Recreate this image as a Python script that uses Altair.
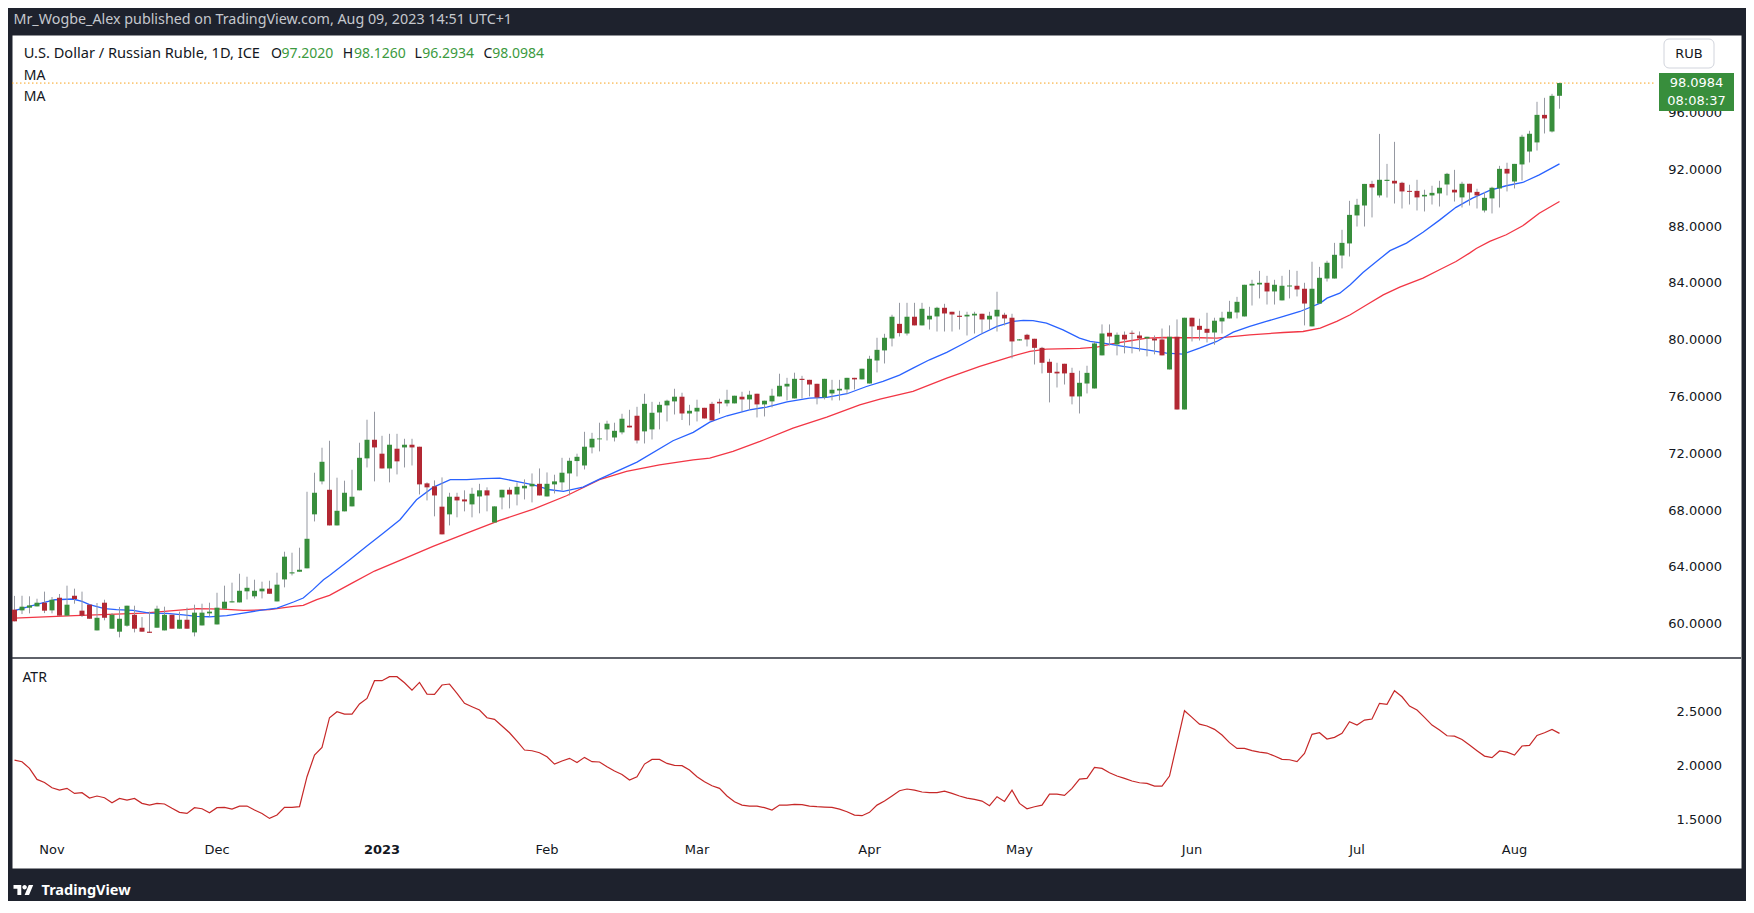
import altair as alt
import pandas as pd

# ---------------- data (USD/RUB daily, Oct 25 2022 - Aug 9 2023) -------------
opens = [
    61.03, 60.98, 61.17, 61.26, 61.52, 60.98, 61.87, 60.61, 62.01, 60.96,
    61.38, 59.57, 61.52, 59.69, 59.48, 59.90, 60.67, 59.76, 59.48, 59.76,
    59.57, 60.67, 59.69, 60.32, 59.43, 59.92, 60.77, 59.99, 61.10, 61.54,
    61.54, 62.32, 61.97, 62.32, 62.51, 61.61, 63.16, 63.58, 63.70, 63.94,
    67.74, 70.06, 69.47, 66.96, 67.95, 68.30, 69.43, 71.68, 72.99, 72.01,
    70.97, 72.36, 72.45, 72.64, 72.50, 69.92, 69.71, 68.28, 67.74, 68.98,
    68.79, 68.44, 69.00, 69.43, 67.17, 68.93, 69.47, 69.14, 69.57, 69.71,
    69.89, 69.00, 69.85, 69.99, 70.62, 71.49, 71.18, 72.45, 73.02, 73.72,
    73.15, 73.51, 73.98, 74.68, 73.58, 73.72, 74.91, 75.41, 75.69, 76.02,
    74.84, 74.98, 75.24, 75.52, 75.66, 75.55, 75.55, 76.02, 75.83, 76.23,
    75.48, 75.69, 76.04, 76.74, 75.90, 77.28, 77.21, 76.93, 75.97, 76.25,
    76.46, 76.53, 77.35, 77.24, 76.95, 78.57, 79.28, 80.12, 81.15, 80.47,
    81.65, 81.04, 81.46, 81.67, 82.28, 82.00, 81.72, 81.67, 81.74, 81.86,
    81.46, 81.67, 81.79, 81.58, 79.98, 80.38, 80.10, 79.46, 78.48, 77.78,
    78.34, 77.70, 76.04, 76.95, 76.60, 78.93, 80.52, 79.70, 80.38, 80.52,
    80.33, 80.12, 80.12, 80.05, 77.94, 80.24, 75.12, 81.58, 81.01, 80.80,
    80.54, 81.32, 81.53, 81.95, 81.67, 83.85, 83.92, 84.04, 83.43, 82.80,
    83.78, 83.83, 83.62, 80.97, 82.58, 84.34, 84.34, 85.96, 86.81, 88.78,
    89.48, 91.00, 90.19, 91.21, 91.22, 91.08, 90.51, 90.51, 90.12, 90.19,
    90.33, 90.96, 90.59, 90.05, 91.01, 90.44, 89.13, 89.98, 90.68, 92.06,
    91.17, 92.37, 93.28, 93.92, 95.86, 94.69, 97.2020,
]
highs = [
    62.00, 62.01, 61.97, 61.80, 62.30, 61.92, 62.13, 62.72, 62.51, 62.30,
    61.38, 61.50, 61.73, 60.79, 61.22, 61.31, 61.31, 60.51, 60.89, 61.31,
    61.24, 60.67, 60.89, 61.17, 61.38, 61.45, 61.52, 62.22, 62.72, 62.93,
    63.56, 63.35, 63.14, 63.00, 63.07, 63.63, 65.11, 65.04, 65.39, 69.33,
    70.67, 72.43, 72.92, 70.32, 70.11, 70.88, 72.78, 74.40, 74.96, 73.27,
    73.41, 73.41, 73.06, 73.06, 72.50, 69.99, 70.13, 70.34, 69.26, 69.26,
    69.43, 69.61, 69.89, 69.64, 68.30, 69.47, 69.64, 69.99, 70.20, 70.62,
    70.97, 70.69, 70.53, 71.72, 71.72, 72.01, 73.55, 73.48, 74.19, 74.33,
    74.19, 74.82, 75.10, 75.31, 76.23, 75.66, 75.66, 75.81, 76.58, 76.30,
    75.45, 75.81, 75.24, 75.66, 75.88, 76.51, 76.09, 76.37, 76.44, 76.23,
    75.74, 76.58, 77.64, 77.35, 77.71, 77.49, 77.21, 76.93, 77.28, 77.21,
    77.21, 77.35, 77.35, 77.99, 78.90, 80.17, 80.45, 81.79, 82.63, 82.63,
    82.63, 82.63, 82.35, 82.35, 82.56, 82.00, 82.07, 82.00, 82.00, 81.86,
    82.00, 83.41, 81.93, 81.86, 80.08, 80.45, 80.10, 79.53, 78.69, 78.41,
    78.34, 78.06, 77.85, 78.20, 79.91, 81.11, 81.11, 80.54, 80.61, 80.68,
    80.61, 80.24, 80.33, 80.82, 81.04, 81.46, 81.58, 81.58, 81.51, 81.93,
    81.58, 82.00, 82.77, 83.05, 83.90, 84.25, 84.88, 84.53, 84.25, 84.53,
    84.95, 84.88, 84.04, 85.52, 85.16, 85.59, 86.85, 87.77, 89.81, 89.95,
    91.00, 91.22, 94.52, 92.41, 93.96, 91.15, 90.94, 91.29, 90.59, 90.87,
    91.22, 91.78, 91.99, 91.15, 91.01, 90.66, 90.44, 90.80, 92.27, 92.49,
    92.41, 94.46, 94.74, 96.78, 97.06, 97.34, 98.1260,
]
lows = [
    60.21, 60.72, 60.77, 61.26, 60.79, 60.77, 60.61, 60.61, 61.45, 60.51,
    60.39, 59.57, 60.28, 59.69, 59.08, 59.83, 59.43, 59.48, 59.40, 59.76,
    59.57, 59.69, 59.69, 59.69, 59.15, 59.92, 60.56, 59.99, 61.10, 61.54,
    61.54, 61.75, 61.82, 61.82, 62.15, 61.61, 62.60, 63.44, 63.70, 63.94,
    67.24, 69.85, 66.96, 66.96, 67.95, 68.30, 69.43, 71.04, 70.06, 70.97,
    69.99, 70.55, 71.04, 71.18, 69.14, 68.72, 67.60, 66.33, 66.96, 67.53,
    67.95, 67.53, 67.81, 67.95, 67.17, 68.09, 68.16, 68.37, 68.79, 68.58,
    69.07, 69.00, 69.21, 69.43, 69.07, 70.41, 70.90, 72.03, 72.17, 72.94,
    72.87, 73.37, 73.86, 72.73, 72.73, 73.01, 73.72, 74.28, 74.77, 74.38,
    74.00, 74.28, 74.49, 74.35, 74.84, 75.34, 75.55, 74.98, 75.10, 74.56,
    74.63, 75.27, 76.04, 75.76, 75.90, 75.90, 76.04, 75.48, 75.83, 75.76,
    75.76, 76.20, 76.53, 77.24, 76.95, 77.73, 78.36, 79.56, 80.26, 80.33,
    81.04, 81.04, 80.75, 80.61, 80.61, 80.61, 80.75, 80.33, 80.47, 80.47,
    80.75, 80.61, 81.04, 78.72, 79.98, 79.56, 78.29, 77.66, 75.62, 76.67,
    76.88, 75.48, 74.84, 76.25, 76.60, 78.93, 79.63, 78.93, 79.07, 79.07,
    79.21, 78.86, 79.00, 78.93, 77.94, 75.12, 75.12, 79.91, 79.98, 79.84,
    79.68, 80.47, 81.53, 81.53, 81.67, 82.44, 82.94, 82.51, 82.51, 82.80,
    82.94, 83.08, 81.04, 80.97, 82.58, 84.13, 84.34, 85.05, 85.89, 88.00,
    88.00, 88.64, 90.04, 90.04, 89.62, 89.27, 89.55, 89.13, 89.06, 89.55,
    89.41, 90.19, 89.76, 89.34, 89.48, 89.27, 88.99, 88.92, 89.34, 90.47,
    90.68, 91.24, 92.51, 93.35, 94.55, 94.62, 96.2934,
]
closes = [
    60.21, 61.24, 61.33, 61.52, 60.96, 61.73, 60.61, 61.38, 61.78, 60.61,
    60.39, 60.46, 60.46, 60.67, 60.39, 61.31, 59.69, 59.48, 59.40, 61.10,
    60.67, 59.69, 60.32, 59.69, 60.82, 60.82, 60.89, 61.17, 61.59, 61.62,
    62.36, 62.57, 62.36, 62.51, 62.15, 62.79, 64.76, 63.66, 63.84, 66.02,
    69.26, 71.44, 66.96, 67.99, 69.26, 68.98, 71.72, 72.99, 72.45, 70.97,
    72.64, 71.47, 72.64, 72.45, 69.85, 69.64, 69.07, 66.33, 68.98, 68.72,
    68.65, 69.19, 69.43, 69.07, 68.30, 69.47, 69.14, 69.68, 69.75, 69.89,
    69.07, 69.89, 70.06, 70.67, 71.51, 71.79, 72.50, 73.06, 73.08, 74.12,
    73.62, 74.47, 73.86, 72.94, 75.52, 74.89, 75.45, 75.74, 76.02, 74.84,
    75.03, 75.24, 74.49, 74.35, 75.55, 75.80, 76.09, 75.83, 76.16, 75.48,
    75.74, 76.09, 76.79, 76.93, 77.28, 77.20, 76.88, 75.97, 77.28, 76.51,
    76.58, 77.35, 77.24, 77.99, 78.69, 79.32, 80.17, 81.65, 80.50, 81.65,
    81.04, 82.21, 81.72, 82.28, 81.88, 81.81, 81.64, 81.79, 81.86, 81.46,
    81.72, 82.14, 81.53, 79.91, 80.06, 80.05, 79.46, 78.41, 77.70, 77.66,
    77.66, 76.04, 77.00, 77.70, 79.77, 80.47, 80.26, 80.38, 80.05, 80.45,
    80.12, 80.24, 79.98, 78.93, 80.24, 75.12, 81.58, 80.97, 80.73, 80.52,
    81.37, 81.58, 82.00, 82.70, 83.90, 83.97, 84.04, 83.43, 83.90, 83.83,
    83.85, 83.57, 82.58, 83.62, 84.39, 85.45, 86.01, 86.85, 88.82, 89.53,
    91.00, 90.75, 91.29, 91.29, 91.03, 90.47, 90.44, 90.05, 90.23, 90.37,
    90.73, 91.71, 90.40, 91.01, 90.40, 90.19, 90.02, 90.73, 92.06, 91.73,
    92.41, 94.32, 94.53, 95.86, 95.61, 97.20, 98.0984,
]
atr_values = [
    2.055, 2.040, 1.978, 1.876, 1.848, 1.799, 1.777, 1.793, 1.746, 1.753,
    1.703, 1.722, 1.706, 1.660, 1.700, 1.685, 1.700, 1.654, 1.638, 1.654,
    1.648, 1.608, 1.571, 1.561, 1.614, 1.604, 1.567, 1.614, 1.617, 1.601,
    1.629, 1.629, 1.592, 1.561, 1.515, 1.546, 1.617, 1.617, 1.623, 1.901,
    2.101, 2.172, 2.447, 2.503, 2.481, 2.481, 2.574, 2.626, 2.790, 2.790,
    2.827, 2.827, 2.771, 2.703, 2.774, 2.666, 2.663, 2.750, 2.759, 2.672,
    2.580, 2.549, 2.518, 2.447, 2.432, 2.370, 2.308, 2.231, 2.148, 2.141,
    2.123, 2.086, 2.018, 2.046, 2.071, 2.033, 2.080, 2.040, 2.037, 1.993,
    1.953, 1.922, 1.870, 1.901, 2.018, 2.061, 2.061, 2.024, 2.006, 2.003,
    1.962, 1.901, 1.854, 1.817, 1.793, 1.722, 1.669, 1.638, 1.629, 1.629,
    1.614, 1.592, 1.638, 1.638, 1.645, 1.643, 1.629, 1.623, 1.620, 1.617,
    1.601, 1.577, 1.546, 1.540, 1.571, 1.638, 1.675, 1.722, 1.771, 1.787,
    1.777, 1.759, 1.753, 1.753, 1.768, 1.746, 1.722, 1.703, 1.691, 1.675,
    1.632, 1.716, 1.672, 1.777, 1.654, 1.604, 1.623, 1.638, 1.740, 1.740,
    1.728, 1.793, 1.879, 1.885, 1.987, 1.978, 1.938, 1.907, 1.885, 1.861,
    1.845, 1.839, 1.814, 1.814, 1.907, 2.209, 2.512, 2.450, 2.388, 2.370,
    2.339, 2.287, 2.216, 2.163, 2.163, 2.142, 2.129, 2.120, 2.092, 2.061,
    2.058, 2.040, 2.117, 2.293, 2.308, 2.250, 2.265, 2.302, 2.410, 2.379,
    2.425, 2.435, 2.580, 2.571, 2.697, 2.641, 2.555, 2.518, 2.450, 2.379,
    2.333, 2.280, 2.277, 2.246, 2.194, 2.142, 2.092, 2.077, 2.139, 2.129,
    2.101, 2.185, 2.191, 2.283, 2.308, 2.339, 2.302,
]
# moving averages, read as (bar index, value)
ma_fast_points = [
    (0, 60.96), (2, 61.26), (4, 61.54), (5.4, 61.73), (7.8, 61.78), (9, 61.61), (10, 61.38),
    (12, 61.10), (13.6, 61.03), (15.8, 60.98), (18, 60.79), (20.3, 60.77), (22.5, 60.67),
    (24.3, 60.56), (26, 60.53), (28.3, 60.61), (30.5, 60.79), (32.7, 60.98), (35, 61.14),
    (37.2, 61.57), (38.5, 61.85), (39.8, 62.44), (41.2, 63.14), (42, 63.44), (44.7, 64.55),
    (46.9, 65.48), (49.2, 66.42), (51.4, 67.36), (53.6, 68.77), (55.8, 69.64), (58.1, 70.18),
    (60.3, 70.18), (62.5, 70.25), (64.7, 70.29), (66.9, 70.06), (69.2, 69.82), (71.4, 69.47),
    (73.2, 69.36), (75.8, 69.66), (78, 70.22), (83, 71.42), (87.8, 72.92), (90.5, 73.51),
    (92.7, 74.23), (95, 74.68), (98, 75.10), (100.3, 75.29), (103, 75.66), (106, 75.92),
    (108.3, 75.97), (111, 76.23), (113.6, 76.74), (115.8, 77.10), (118, 77.54), (119.8, 78.03),
    (122, 78.62), (124.3, 79.14), (126.5, 79.75), (128.7, 80.38), (131, 80.97), (133.2, 81.32),
    (134.5, 81.39), (135.8, 81.37), (137.6, 81.20), (139.8, 80.73), (142, 80.15), (143.4, 79.91),
    (145.6, 79.75), (147.8, 79.56), (151, 79.32), (153.6, 79.09), (155.8, 79.02), (158, 79.44),
    (160.3, 79.91), (162.5, 80.57), (164.7, 80.97), (166.9, 81.32), (169.2, 81.67), (171.4, 82.02),
    (172.7, 82.30), (174.1, 82.61), (175, 82.96), (176.7, 83.31), (178.1, 83.90), (179.8, 84.77),
    (181.6, 85.54), (183.4, 86.30), (185.6, 86.83), (187.8, 87.60), (190, 88.45), (192.2, 89.35),
    (194.4, 90.00), (196.7, 90.54), (198.9, 90.87), (201.1, 91.10), (203.3, 91.64), (206, 92.41),
]
ma_slow_points = [
    (0, 60.44), (8, 60.61), (17.2, 60.79), (21.6, 60.98), (24.3, 61.10), (27.8, 61.07),
    (30.5, 60.98), (34, 61.03), (37.2, 61.26), (38.5, 61.33), (40.3, 61.73), (42, 62.04),
    (45, 62.90), (48, 63.75), (51.8, 64.59), (55.8, 65.48), (60.3, 66.42), (64.7, 67.31),
    (69.2, 68.11), (73.6, 69.05), (78, 70.18), (81.6, 70.76), (86, 71.23), (90.5, 71.58),
    (92.7, 71.70), (95.8, 72.17), (99.4, 72.87), (103.8, 73.81), (108.3, 74.59), (112.7, 75.45),
    (115.4, 75.85), (119.8, 76.39), (124.3, 77.33), (128.7, 78.15), (133.2, 78.90), (135.4, 79.21),
    (137.6, 79.37), (142.1, 79.42), (144.3, 79.51), (146.5, 79.75), (148.8, 79.96), (151, 80.15),
    (153.2, 80.19), (155.8, 80.17), (158.1, 80.17), (160.3, 80.15), (164.7, 80.38), (169.2, 80.54),
    (171.8, 80.61), (174.1, 80.85), (176.3, 81.32), (178.1, 81.79), (180.3, 82.49), (182.5, 83.19),
    (184.7, 83.73), (187.8, 84.37), (190, 84.96), (192.2, 85.54), (194, 86.13), (194.9, 86.45),
    (196.7, 86.95), (198.9, 87.42), (201.1, 88.05), (203.3, 88.94), (206, 89.76),
]
month_index = [5, 27, 49, 71, 91, 114, 134, 157, 179, 200]
month_labels = ["Nov", "Dec", "2023", "Feb", "Mar", "Apr", "May", "Jun", "Jul", "Aug"]
price_ticks = [60, 64, 68, 72, 76, 80, 84, 88, 92, 96]
atr_ticks = [1.5, 2.0, 2.5]
publish_text = "Mr_Wogbe_Alex published on TradingView.com, Aug 09, 2023 14:51 UTC+1"
symbol_text = "U.S. Dollar / Russian Ruble, 1D, ICE"
countdown_text = "08:08:37"

# ---------------- styling / layout ----------------
FONT = "Noto Sans"
AXFONT = "DejaVu Sans"
BG = "#1e222d"
INK = "#131722"
UP = "#388e3c"
DOWN = "#b22833"
VAL = "#3b9a40"
WICK = "#9598a1"
MA_FAST = "#2962ff"
MA_SLOW = "#f23645"
ATR_C = "#c62828"

W, H, PRICE_H = 1729, 833, 623
BAR_PX = 7.5
HALF = 1 / 3

# TradingView logo as a custom symbol path (unit box -1..1)
LOGO_PATH = (
    "M-0.222,0.444L-0.611,0.444L-0.611,-0.167L-1,-0.167L-1,-0.556L-0.222,-0.556Z"
    "M0.556,0.444L0.111,0.444L0.528,-0.556L0.972,-0.556Z"
    "M-0.111,-0.333a0.222,0.222 0 1,0 0.444,0a0.222,0.222 0 1,0 -0.444,0Z"
)

x_scale = alt.Scale(domain=[-HALF, -HALF + W / BAR_PX], nice=False, zero=False)
p_scale = alt.Scale(domain=[57.628, 101.482], range=[PRICE_H, 0], nice=False, zero=False)
a_scale = alt.Scale(domain=[1.0556, 3.0], range=[H, PRICE_H], nice=False, zero=False)


def X(f):
    return alt.X(f, type="quantitative", scale=x_scale, axis=None)


def YP(f):
    return alt.Y(f, type="quantitative", scale=p_scale, axis=None)


def YA(f):
    return alt.Y(f, type="quantitative", scale=a_scale, axis=None)


n = min(len(opens), len(highs), len(lows), len(closes))
candles = pd.DataFrame({
    "i": list(range(n)),
    "open": opens[:n], "high": highs[:n], "low": lows[:n], "close": closes[:n],
})
candles["dir"] = ["up" if c >= o else "down" for o, c in zip(candles["open"], candles["close"])]

atr_df = pd.DataFrame({"i": list(range(len(atr_values))), "atr": atr_values})
fast_df = pd.DataFrame(ma_fast_points, columns=["i", "v"])
slow_df = pd.DataFrame(ma_slow_points, columns=["i", "v"])
one = pd.DataFrame({"k": [0]})

layers = []

# last price dotted line
last_df = pd.DataFrame({"p": [closes[-1]]})
layers.append(
    alt.Chart(last_df).mark_rule(color="#f7a21b", strokeDash=[1.5, 2.5], strokeWidth=1)
    .encode(x=alt.value(0), x2=alt.value(1644), y=YP("p"))
)

# moving averages
layers.append(alt.Chart(slow_df).mark_line(color=MA_SLOW, strokeWidth=1.3).encode(x=X("i"), y=YP("v")))
layers.append(alt.Chart(fast_df).mark_line(color=MA_FAST, strokeWidth=1.3).encode(x=X("i"), y=YP("v")))

# candles
layers.append(
    alt.Chart(candles).mark_rule(color=WICK, strokeWidth=1)
    .encode(x=X("i"), y=YP("low"), y2="high")
)
layers.append(
    alt.Chart(candles)
    .transform_calculate(x0=f"datum.i - {HALF}", x1=f"datum.i + {HALF}")
    .mark_rect()
    .encode(
        x=X("x0"), x2="x1", y=YP("open"), y2="close",
        color=alt.Color("dir:N", scale=alt.Scale(domain=["up", "down"], range=[UP, DOWN]), legend=None),
    )
)

# ATR line
layers.append(alt.Chart(atr_df).mark_line(color=ATR_C, strokeWidth=1.2).encode(x=X("i"), y=YA("atr")))

# pane separator
layers.append(
    alt.Chart(one).mark_rule(color="#2a2e39", strokeWidth=1.5)
    .encode(x=alt.value(0), x2=alt.value(W), y=alt.value(PRICE_H))
)

# price scale labels
pt = pd.DataFrame({"v": price_ticks, "t": [f"{v:.4f}" for v in price_ticks]})
layers.append(
    alt.Chart(pt).mark_text(align="right", baseline="middle", font=AXFONT, fontSize=13, color=INK)
    .encode(x=alt.value(1710), y=YP("v"), text="t:N")
)
at = pd.DataFrame({"v": atr_ticks, "t": [f"{v:.4f}" for v in atr_ticks]})
layers.append(
    alt.Chart(at).mark_text(align="right", baseline="middle", font=AXFONT, fontSize=13, color=INK)
    .encode(x=alt.value(1710), y=YA("v"), text="t:N")
)

# time labels
mt = pd.DataFrame({"i": month_index, "t": month_labels,
                   "year": [lab.isdigit() for lab in month_labels]})
layers.append(
    alt.Chart(mt).transform_filter("!datum.year")
    .mark_text(align="center", baseline="middle", font=AXFONT, fontSize=13, color=INK)
    .encode(x=X("i"), y=alt.value(815), text="t:N")
)
layers.append(
    alt.Chart(mt).transform_filter("datum.year")
    .mark_text(align="center", baseline="middle", font=AXFONT, fontSize=13, fontWeight="bold", color=INK)
    .encode(x=X("i"), y=alt.value(815), text="t:N")
)

# currency box
layers.append(
    alt.Chart(one).mark_rect(fill="white", stroke="#d1d4dc", strokeWidth=1, cornerRadius=5)
    .encode(x=alt.value(1652), x2=alt.value(1702), y=alt.value(4), y2=alt.value(33))
)
layers.append(
    alt.Chart(one).mark_text(text="RUB", align="center", baseline="middle", font=AXFONT, fontSize=13, color=INK)
    .encode(x=alt.value(1677), y=alt.value(18.5))
)

# last price label
layers.append(
    alt.Chart(one).mark_rect(fill=UP)
    .encode(x=alt.value(1647), x2=alt.value(1722), y=alt.value(38), y2=alt.value(76))
)
layers.append(
    alt.Chart(last_df).transform_calculate(t="format(datum.p, '.4f')")
    .mark_text(align="center", baseline="middle", font=AXFONT, fontSize=13, color="white")
    .encode(x=alt.value(1684.5), y=alt.value(48), text="t:N")
)
layers.append(
    alt.Chart(one).mark_text(text=countdown_text, align="center", baseline="middle", font=AXFONT,
                             fontSize=13, color="white")
    .encode(x=alt.value(1684.5), y=alt.value(66))
)

# legend lines in the price pane
layers.append(
    alt.Chart(one).mark_text(text=symbol_text, align="left", baseline="middle", font=FONT,
                             fontSize=14.6, color=INK)
    .encode(x=alt.value(11.7), y=alt.value(18.5))
)
head = pd.DataFrame({
    "t": ["O", f"{opens[-1]:.4f}", "H", f"{highs[-1]:.4f}",
          "L", f"{lows[-1]:.4f}", "C", f"{closes[-1]:.4f}"],
    "px": [258.9, 269.5, 330.8, 341.9, 402.4, 410.3, 471.6, 480.3],
    "c": [INK, VAL, INK, VAL, INK, VAL, INK, VAL],
})
layers.append(
    alt.Chart(head).mark_text(align="left", baseline="middle", font=FONT, fontSize=14)
    .encode(x=alt.X("px:Q", scale=None), y=alt.value(18.5), text="t:N", color=alt.Color("c:N", scale=None))
)
for yy in (41, 61.7):
    layers.append(
        alt.Chart(one).mark_text(text="MA", align="left", baseline="middle", font=FONT, fontSize=14, color=INK)
        .encode(x=alt.value(11.7), y=alt.value(yy))
    )
layers.append(
    alt.Chart(one).mark_text(text="ATR", align="left", baseline="middle", font=FONT, fontSize=14, color=INK)
    .encode(x=alt.value(10.4), y=alt.value(643))
)

# dark frame texts
layers.append(
    alt.Chart(one).mark_text(text=publish_text, align="left", baseline="middle", font=FONT,
                             fontSize=14.3, color="#c5c8ce")
    .encode(x=alt.value(1.5), y=alt.value(-15.5))
)
layers.append(
    alt.Chart(one).mark_point(shape=LOGO_PATH, filled=True, fill="white", opacity=1, size=400, strokeWidth=0)
    .encode(x=alt.value(11.5), y=alt.value(855.5))
)
layers.append(
    alt.Chart(one).mark_text(text="TradingView", align="left", baseline="middle", font=FONT,
                             fontSize=14.5, fontWeight="bold", color="white")
    .encode(x=alt.value(29.5), y=alt.value(855.5))
)

chart = (
    alt.layer(*layers)
    .resolve_scale(y="independent")
    .properties(
        width=W, height=H,
        autosize=alt.AutoSizeParams(type="none"),
        padding={"left": 4, "top": 27, "right": 5, "bottom": 33},
        background=BG,
    )
    .configure_view(fill="white", stroke="transparent")
)

chart.save("out.html", embed_options={"renderer": "svg", "actions": False})
